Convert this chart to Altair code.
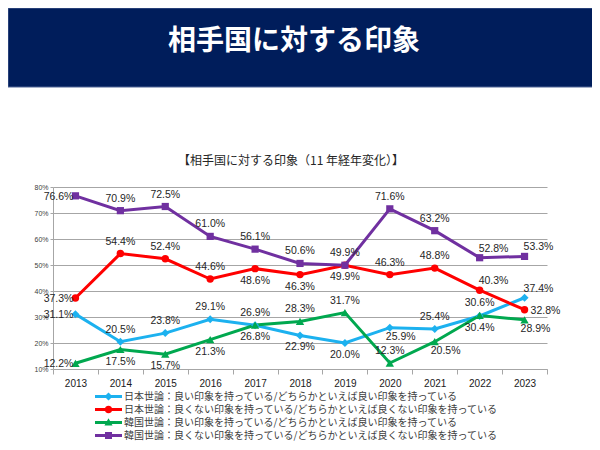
import altair as alt
import pandas as pd

# ---------------- data ----------------
years = [str(y) for y in range(2013, 2024)]
series_names = [
    "日本世論：良い印象を持っている/どちらかといえば良い印象を持っている",
    "日本世論：良くない印象を持っている/どちらかといえば良くない印象を持っている",
    "韓国世論：良い印象を持っている/どちらかといえば良い印象を持っている",
    "韓国世論：良くない印象を持っている/どちらかといえば良くない印象を持っている",
]
jp_good = [31.1, 20.5, 23.8, 29.1, 26.8, 22.9, 20.0, 25.9, 25.4, 30.4, 37.4]
jp_bad = [37.3, 54.4, 52.4, 44.6, 48.6, 46.3, 49.9, 46.3, 48.8, 40.3, 32.8]
kr_good = [12.2, 17.5, 15.7, 21.3, 26.9, 28.3, 31.7, 12.3, 20.5, 30.6, 28.9]
kr_bad = [76.6, 70.9, 72.5, 61.0, 56.1, 50.6, 49.9, 71.6, 63.2, 52.8, 53.3]

# label placement keywords (a=above, b=below, l=left, r=right, ar/br=above/below-right)
jp_good_pos = ["l", "a", "a", "a", "b", "b", "b", "br", "a", "b", "ar"]
jp_bad_pos = ["l", "a", "a", "a", "b", "b", "b", "a", "a", "ar", "r"]
kr_good_pos = ["l", "b", "b", "b", "a", "a", "a", "a", "br", "a", "br"]
kr_bad_pos = ["l", "a", "a", "a", "a", "a", "a", "a", "a", "ar", "ar"]

y_ticks = [10, 20, 30, 40, 50, 60, 70, 80]
main_title = "相手国に対する印象"
sub_title = "【相手国に対する印象（11 年経年変化）】"

# ---------------- styles ----------------
colors = ["#1cb1ef", "#ff0000", "#00a84f", "#7030a0"]
shapes = ["diamond", "circle", "triangle-up", "square"]
sizes = [64, 55, 70, 52]
line_part = "M-1,-0.11H1V0.11H-1Z"
legend_paths = [
    line_part + "M0,-0.3L0.3,0L0,0.3L-0.3,0Z",
    line_part + "M-0.28,0A0.28,0.28 0 1,1 0.28,0A0.28,0.28 0 1,1 -0.28,0Z",
    line_part + "M0,-0.32L0.3,0.22L-0.3,0.22Z",
    line_part + "M-0.26,-0.26H0.26V0.26H-0.26Z",
]
placements = {
    "a": dict(align="center", dx=0, dy=-12),
    "b": dict(align="center", dx=0, dy=12),
    "l": dict(align="right", dx=-2, dy=1),
    "r": dict(align="left", dx=6, dy=1),
    "ar": dict(align="left", dx=-1, dy=-9),
    "br": dict(align="left", dx=-4, dy=9),
}

rows = []
for name, vals, pos in zip(series_names, [jp_good, jp_bad, kr_good, kr_bad],
                           [jp_good_pos, jp_bad_pos, kr_good_pos, kr_bad_pos]):
    for yr, v, p in zip(years, vals, pos):
        rows.append({"series": name, "year": yr, "value": v, "pos": p,
                     "label": f"{v:.1f}%"})
df = pd.DataFrame(rows)

FONT_JP = "Noto Sans CJK JP"
FONT_NUM = "Liberation Sans, Arial, sans-serif"

color_scale = alt.Scale(domain=series_names, range=colors)
leg = alt.Legend(
    title=None, orient="none", legendX=42, legendY=203, direction="vertical",
    clipHeight=13, symbolSize=729, labelFont=FONT_JP, labelFontSize=10,
    labelColor="#404040", labelLimit=700, labelOffset=2, rowPadding=0,
    padding=0, symbolStrokeWidth=0, symbolOpacity=1,
)

x_enc = alt.X(
    "year:O",
    scale=alt.Scale(type="band", paddingInner=0, paddingOuter=0),
    bandPosition=0.5,
    axis=alt.Axis(
        title=None, tickBand="extent", grid=False, domainColor="#a6a6a6",
        tickColor="#a6a6a6", tickSize=5, labelPadding=4, labelFontSize=10,
        labelFont=FONT_NUM, labelColor="#1a1a1a", labelAngle=0,
    ),
)
y_enc = alt.Y(
    "value:Q",
    scale=alt.Scale(domain=[10, 80], nice=False, zero=False),
    axis=alt.Axis(
        title=None, values=y_ticks, labelExpr="datum.value + '%'",
        grid=True, gridColor="#a6a6a6", gridWidth=1, domainColor="#a6a6a6",
        tickColor="#a6a6a6", tickSize=3, labelPadding=2, labelFontSize=7,
        labelFont=FONT_NUM, labelColor="#404040",
    ),
)
col = alt.Color("series:N", scale=color_scale, legend=leg)

base = alt.Chart(df)

lines = base.mark_line(strokeWidth=3).encode(
    x=x_enc, y=y_enc, color=col, detail="series:N",
)

marker_layers = []
for name, shp, sz in zip(series_names, shapes, sizes):
    marker_layers.append(
        base.transform_filter(alt.datum.series == name)
        .mark_point(shape=shp, filled=True, size=sz, opacity=1)
        .encode(x=x_enc, y=y_enc, color=col)
    )

label_layers = []
for key, st in placements.items():
    label_layers.append(
        base.transform_filter(alt.datum.pos == key)
        .mark_text(font=FONT_NUM, fontSize=10.5, color="#262626",
                   baseline="middle", **st)
        .encode(x=x_enc, y=y_enc, text="label:N")
    )

legend_layer = (
    base.transform_filter("false")
    .mark_point(filled=True, size=729, opacity=1)
    .encode(
        x=x_enc, y=y_enc, color=col,
        shape=alt.Shape("series:N",
                        scale=alt.Scale(domain=series_names, range=legend_paths),
                        legend=leg),
    )
)

one = pd.DataFrame({"t": [main_title], "s": [sub_title]})
banner = alt.Chart(one).mark_rect(fill="#001d5b", stroke="#4f6496", strokeWidth=1).encode(
    x=alt.value(-45), x2=alt.value(540), y=alt.value(-179), y2=alt.value(-100)
)
title_txt = alt.Chart(one).mark_text(
    font=FONT_JP, fontSize=28, fontWeight="bold", color="white",
    align="center", baseline="middle",
).encode(x=alt.value(241), y=alt.value(-145), text="t:N")
sub_txt = alt.Chart(one).mark_text(
    font=FONT_JP, fontSize=12, color="#262626", align="center", baseline="middle",
).encode(x=alt.value(238), y=alt.value(-26), text="s:N")

chart = alt.layer(
    banner, title_txt, sub_txt, lines, *marker_layers, *label_layers, legend_layer
).properties(
    width=494, height=182,
    autosize=alt.AutoSizeParams(type="none"),
    padding={"left": 45, "top": 179, "right": 45, "bottom": 73},
).configure_view(stroke=None)

chart.save("out.html", embed_options={"renderer": "svg", "actions": False})
